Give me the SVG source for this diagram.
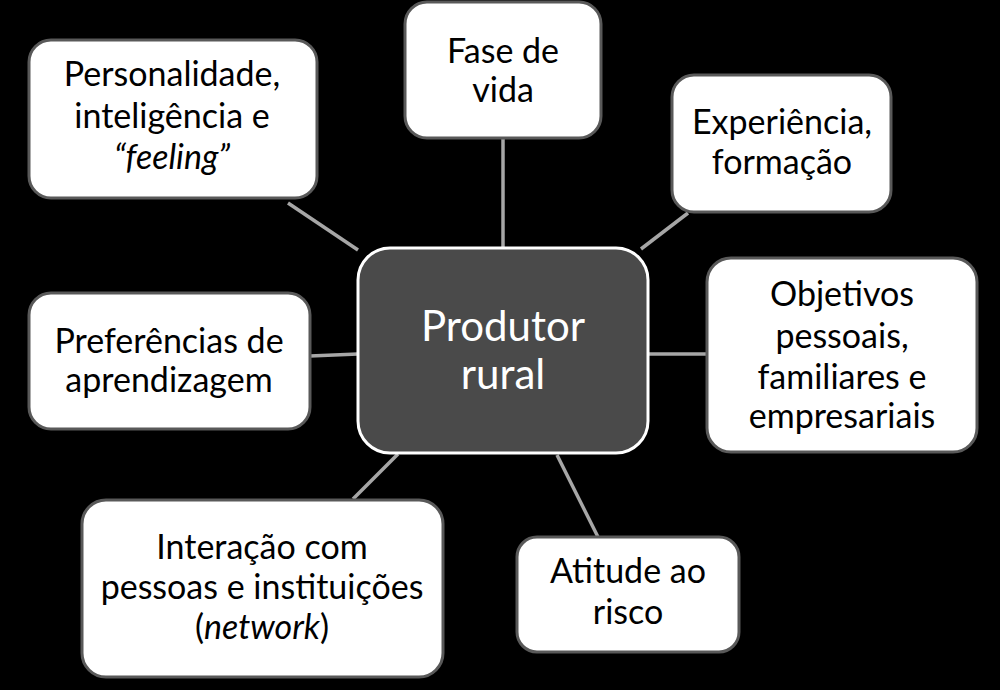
<svg xmlns="http://www.w3.org/2000/svg" width="1000" height="690" viewBox="0 0 1000 690">
<style>
.bg{fill:#000}
.box{fill:#fff;stroke:#595959;stroke-width:3}
.center{fill:#4a4a4a;stroke:#fff;stroke-width:3}
.conn line{stroke:#a6a6a6;stroke-width:3.5}
text{font-family:Lato,"Open Sans","Liberation Sans",sans-serif;text-anchor:middle}
.t{font-size:34px;fill:#000}
.ct{font-size:42px;fill:#fff}
.i{font-style:italic}
</style>
<rect class="bg" x="0" y="0" width="1000" height="690"/>
<g id="connectors" class="conn">
<line x1="288" y1="203" x2="358" y2="250"/>
<line x1="503" y1="139" x2="503" y2="248"/>
<line x1="688" y1="213" x2="641" y2="249"/>
<line x1="707" y1="354" x2="649" y2="354"/>
<line x1="310" y1="356" x2="358" y2="354"/>
<line x1="398" y1="454" x2="353" y2="499"/>
<line x1="557" y1="455" x2="598" y2="537"/>
</g>
<g id="n-personalidade">
<rect class="box" x="29" y="40" width="288" height="158" rx="22"/>
<text class="t" x="172" y="86">Personalidade,</text>
<text class="t" x="172" y="128">inteligência e</text>
<text class="t i" x="172" y="169">“feeling”</text>
</g>
<g id="n-fase">
<rect class="box" x="405" y="2" width="196" height="136" rx="22"/>
<text class="t" x="503" y="63">Fase de</text>
<text class="t" x="503" y="102">vida</text>
</g>
<g id="n-experiencia">
<rect class="box" x="672" y="75" width="219" height="137" rx="22"/>
<text class="t" x="782" y="134">Experiência,</text>
<text class="t" x="782" y="174">formação</text>
</g>
<g id="n-objetivos">
<rect class="box" x="707" y="258" width="270" height="194" rx="24"/>
<text class="t" x="842" y="306">Objetivos</text>
<text class="t" x="842" y="348">pessoais,</text>
<text class="t" x="842" y="389">familiares e</text>
<text class="t" x="842" y="428">empresariais</text>
</g>
<g id="n-preferencias">
<rect class="box" x="29" y="293" width="281" height="136" rx="22"/>
<text class="t" x="169" y="353">Preferências de</text>
<text class="t" x="169" y="392">aprendizagem</text>
</g>
<g id="n-interacao">
<rect class="box" x="82" y="500" width="361" height="177" rx="24"/>
<text class="t" x="262" y="559">Interação com</text>
<text class="t" x="262" y="599">pessoas e instituições</text>
<text class="t" x="262" y="639">(<tspan class="i">network</tspan>)</text>
</g>
<g id="n-atitude">
<rect class="box" x="517" y="537" width="222" height="115" rx="20"/>
<text class="t" x="628" y="583">Atitude ao</text>
<text class="t" x="628" y="624">risco</text>
</g>
<g id="n-produtor">
<rect class="center" x="358" y="248" width="290" height="205" rx="32"/>
<text class="ct" x="503" y="341">Produtor</text>
<text class="ct" x="503" y="389">rural</text>
</g>
</svg>
